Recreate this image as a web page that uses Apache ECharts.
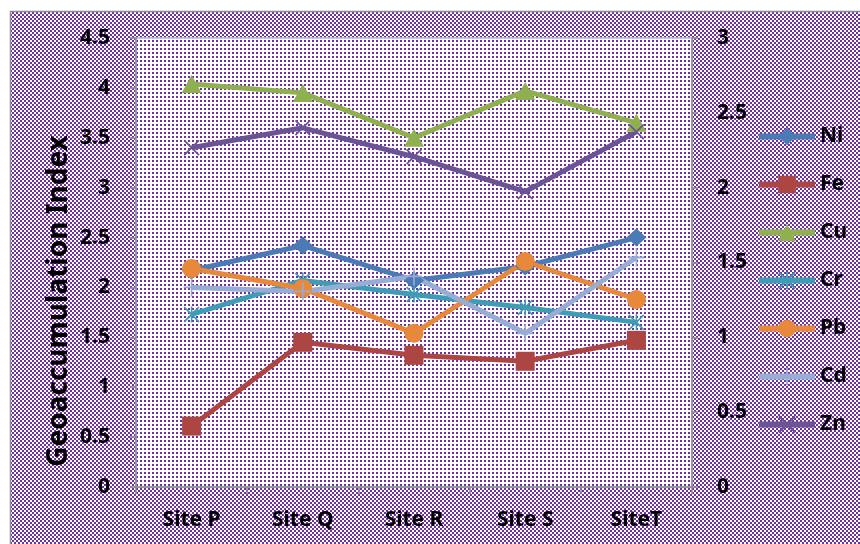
<!DOCTYPE html>
<html>
<head>
<meta charset="utf-8">
<script src="https://cdn.jsdelivr.net/npm/echarts@6/dist/echarts.min.js"></script>
<style>
html, body { margin: 0; padding: 0; background: #fff; }
#chart { width: 860px; height: 544px; }
</style>
</head>
<body>
<div id="chart"></div>
<script>
// Sampling sites along the x axis
const sites = ['Site P', 'Site Q', 'Site R', 'Site S', 'SiteT'];

// Geoaccumulation index per metal, one value per site
const ni = [2.17, 2.42, 2.07, 2.21, 2.50];
const fe = [0.61, 1.45, 1.32, 1.26, 1.47];
const cu = [4.04, 3.95, 3.50, 3.97, 3.65];
const cr = [1.73, 2.07, 1.93, 1.80, 1.65];
const pb = [2.19, 1.99, 1.54, 2.26, 1.88];
const cd = [2.00, 1.96, 2.11, 1.54, 2.30];
const zn = [3.40, 3.60, 3.31, 2.96, 3.56];

// Axis ranges
const leftMax = 4.5, leftStep = 0.5;
const rightMax = 3, rightStep = 0.5;

const PURPLE = '#7030A0';
const FONT = '"Noto Sans", "Open Sans", sans-serif';

// Checkerboard fill for the chart background
function checkerPattern() {
  const c = document.createElement('canvas');
  c.width = 4; c.height = 4;
  const g = c.getContext('2d');
  g.fillStyle = '#ffffff'; g.fillRect(0, 0, 4, 4);
  g.fillStyle = PURPLE;
  g.fillRect(0, 0, 2, 2);
  g.fillRect(2, 2, 2, 2);
  return { image: c, repeat: 'repeat' };
}

// Sparse dots for the plot area
function dotPattern() {
  const c = document.createElement('canvas');
  c.width = 4; c.height = 4;
  const g = c.getContext('2d');
  g.fillStyle = '#ffffff'; g.fillRect(0, 0, 4, 4);
  g.fillStyle = PURPLE;
  g.fillRect(0, 0, 2, 2);
  return { image: c, repeat: 'repeat' };
}

// Thin-stroke marker shapes
const SYM_X = 'path://M1.5 0 L10 8.5 L18.5 0 L20 1.5 L11.5 10 L20 18.5 L18.5 20 L10 11.5 L1.5 20 L0 18.5 L8.5 10 L0 1.5 Z';
const SYM_STAR = 'path://M1.5 0 L10 8.5 L18.5 0 L20 1.5 L11.5 10 L20 18.5 L18.5 20 L10 11.5 L1.5 20 L0 18.5 L8.5 10 L0 1.5 Z M9 0 L11 0 L11 20 L9 20 Z';
const SYM_PLUS = 'path://M9 0 L11 0 L11 20 L9 20 Z M0 9 L20 9 L20 11 L0 11 Z';

const metals = [
  { name: 'Ni', data: ni, color: '#4A7BB5', symbol: 'diamond', size: [20, 18] },
  { name: 'Fe', data: fe, color: '#AD4542', symbol: 'rect', size: 19 },
  { name: 'Cu', data: cu, color: '#8FB04F', symbol: 'triangle', size: [20, 18] },
  { name: 'Cr', data: cr, color: '#3E9DB5', symbol: SYM_STAR, size: 16 },
  { name: 'Pb', data: pb, color: '#E8883A', symbol: 'circle', size: 19 },
  { name: 'Cd', data: cd, color: '#98ADD6', symbol: SYM_PLUS, size: [16, 18] },
  { name: 'Zn', data: zn, color: '#6B5495', symbol: SYM_X, size: 16 }
];

const axisLabelStyle = { color: '#000', fontFamily: FONT, fontWeight: 'bold', fontSize: 21 };
const axisLineStyle = { color: '#8C8C8C', width: 1.5 };

const chart = echarts.init(document.getElementById('chart'), null, { renderer: 'canvas' });

chart.setOption({
  animation: false,
  backgroundColor: '#ffffff',
  graphic: [
    {
      type: 'rect',
      z: -100,
      silent: true,
      shape: { x: 10.5, y: 11.5, width: 860, height: 540 },
      style: { fill: checkerPattern(), stroke: '#8C8C8C', lineWidth: 1.5 }
    },
    {
      type: 'text',
      x: 59,
      y: 301,
      rotation: Math.PI / 2,
      silent: true,
      style: {
        text: 'Geoaccumulation Index',
        fill: '#000',
        fontFamily: FONT,
        fontWeight: 'bold',
        fontSize: 28,
        align: 'center',
        verticalAlign: 'middle'
      }
    }
  ],
  grid: {
    left: 136, top: 38, right: 168, bottom: 57,
    show: true,
    backgroundColor: dotPattern(),
    borderColor: '#A9BEE2',
    borderWidth: 1.5
  },
  legend: {
    orient: 'vertical',
    left: 756,
    top: 126,
    padding: 0,
    itemWidth: 56,
    itemHeight: 22,
    itemGap: 27,
    lineStyle: { width: 6, cap: 'butt' },
    textStyle: { color: '#000', fontFamily: FONT, fontWeight: 'bold', fontSize: 21 },
    data: metals.map(m => m.name)
  },
  xAxis: {
    type: 'category',
    data: sites,
    boundaryGap: true,
    axisLine: { lineStyle: axisLineStyle },
    axisTick: { show: true, length: 7, lineStyle: axisLineStyle },
    axisLabel: Object.assign({ margin: 23 }, axisLabelStyle),
    splitLine: { show: false }
  },
  yAxis: [
    {
      type: 'value',
      min: 0, max: leftMax, interval: leftStep,
      axisLine: { show: true, lineStyle: axisLineStyle },
      axisTick: { show: true, length: 6, lineStyle: axisLineStyle },
      axisLabel: Object.assign({ margin: 26 }, axisLabelStyle),
      splitLine: { show: false }
    },
    {
      type: 'value',
      position: 'right',
      min: 0, max: rightMax, interval: rightStep,
      axisLine: { show: true, lineStyle: axisLineStyle },
      axisTick: { show: true, length: 6, lineStyle: axisLineStyle },
      axisLabel: Object.assign({ margin: 25, align: 'left' }, axisLabelStyle),
      splitLine: { show: false }
    }
  ],
  series: metals.map(m => ({
    name: m.name,
    type: 'line',
    yAxisIndex: 0,
    data: m.data,
    symbol: m.symbol,
    symbolSize: m.size,
    showAllSymbol: true,
    lineStyle: { color: m.color, width: 5 },
    itemStyle: { color: m.color, borderWidth: 0 },
    emphasis: { disabled: true }
  }))
});
</script>
</body>
</html>
